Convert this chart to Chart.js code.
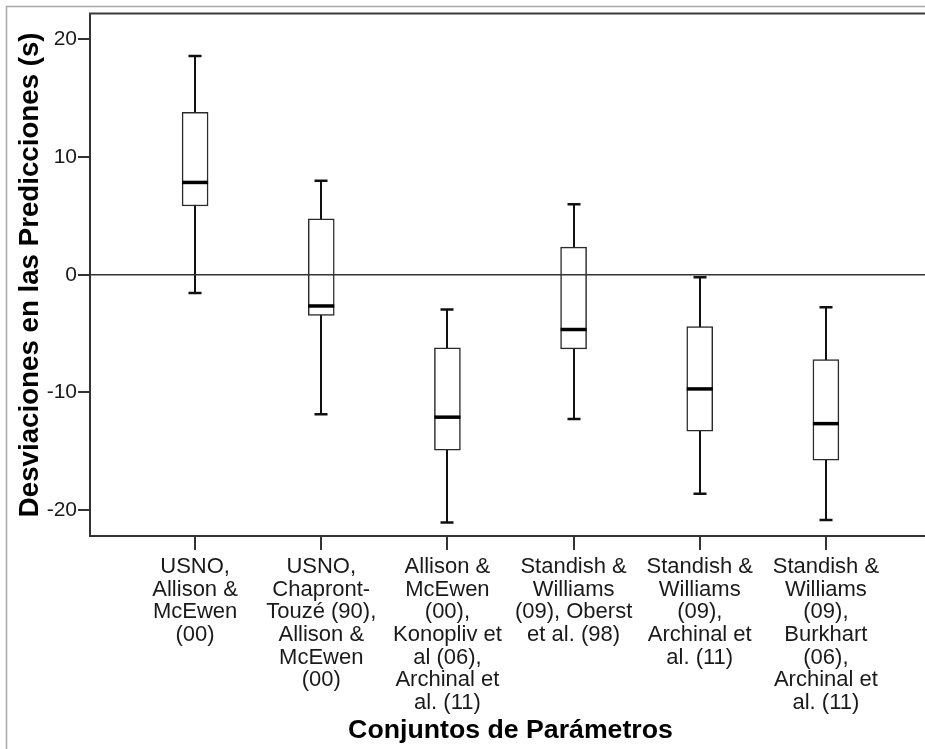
<!DOCTYPE html>
<html>
<head>
<meta charset="utf-8">
<script src="https://cdn.jsdelivr.net/npm/chart.js@4.4.1/dist/chart.umd.min.js"></script>
<style>
  html, body { margin: 0; padding: 0; background: #fff; overflow: hidden; }
  canvas { display: block; }
</style>
</head>
<body>
<canvas id="chart" width="932" height="749"></canvas>
<script>
// Parameter sets (multi-line category labels)
const categories = [
  ['USNO,', 'Allison &', 'McEwen', '(00)'],
  ['USNO,', 'Chapront-', 'Touzé (90),', 'Allison &', 'McEwen', '(00)'],
  ['Allison &', 'McEwen', '(00),', 'Konopliv et', 'al (06),', 'Archinal et', 'al. (11)'],
  ['Standish &', 'Williams', '(09), Oberst', 'et al. (98)'],
  ['Standish &', 'Williams', '(09),', 'Archinal et', 'al. (11)'],
  ['Standish &', 'Williams', '(09),', 'Burkhart', '(06),', 'Archinal et', 'al. (11)']
];

// Five-number summaries of the prediction deviations (s)
const whiskerLow  = [-1.55, -11.85, -21.05, -12.25, -18.6, -20.85];
const q1          = [ 5.85,  -3.45, -14.9,   -6.3,  -13.3, -15.75];
const median      = [ 7.85,  -2.65, -12.1,   -4.65,  -9.7, -12.65];
const q3          = [13.8,    4.75,  -6.2,    2.35,  -4.4,  -7.2];
const whiskerHigh = [18.6,    8.0,   -2.95,   6.0,   -0.2,  -2.75];

const yTicks = [-20, -10, 0, 10, 20];

const FONT = '"Liberation Sans", Arial, Helvetica, sans-serif';
const INK = '#1a1a1a';

// Whiskers, medians, reference line and frame drawn through the chart scales
const boxPlotPlugin = {
  id: 'boxPlot',
  beforeDraw(chart) {
    const { ctx, width, height } = chart;
    ctx.save();
    ctx.strokeStyle = '#a8a8a8';
    ctx.lineWidth = 1.5;
    ctx.beginPath();
    ctx.moveTo(6.5, height);
    ctx.lineTo(6.5, 6.5);
    ctx.lineTo(width, 6.5);
    ctx.stroke();
    ctx.restore();
  },
  beforeDatasetsDraw(chart) {
    const { ctx, scales: { x, y } } = chart;
    ctx.save();
    ctx.strokeStyle = '#111';
    categories.forEach((_, i) => {
      const px = Math.round(x.getPixelForValue(i));
      const yHi = y.getPixelForValue(whiskerHigh[i]);
      const yLo = y.getPixelForValue(whiskerLow[i]);
      ctx.lineWidth = 2;
      ctx.beginPath();
      ctx.moveTo(px, yHi);
      ctx.lineTo(px, yLo);
      ctx.stroke();
      ctx.lineWidth = 2.5;
      ctx.beginPath();
      ctx.moveTo(px - 6.5, yHi); ctx.lineTo(px + 6.5, yHi);
      ctx.moveTo(px - 6.5, yLo); ctx.lineTo(px + 6.5, yLo);
      ctx.stroke();
    });
    ctx.restore();
  },
  afterDatasetsDraw(chart) {
    const { ctx, chartArea, scales: { y } } = chart;
    const meta = chart.getDatasetMeta(0);
    ctx.save();
    // medians
    ctx.strokeStyle = '#000';
    ctx.lineWidth = 3.5;
    meta.data.forEach((bar, i) => {
      const half = bar.width / 2;
      const py = y.getPixelForValue(median[i]);
      ctx.beginPath();
      ctx.moveTo(bar.x - half, py);
      ctx.lineTo(bar.x + half, py);
      ctx.stroke();
    });
    // zero reference line
    const y0 = y.getPixelForValue(0);
    ctx.strokeStyle = '#333';
    ctx.lineWidth = 1.5;
    ctx.beginPath();
    ctx.moveTo(chartArea.left, y0);
    ctx.lineTo(chartArea.right, y0);
    ctx.stroke();
    // top edge of the plot frame
    ctx.strokeStyle = '#3a3a3a';
    ctx.lineWidth = 2;
    ctx.beginPath();
    ctx.moveTo(chartArea.left - 1, chartArea.top);
    ctx.lineTo(chartArea.right, chartArea.top);
    ctx.stroke();
    ctx.restore();
  }
};

new Chart(document.getElementById('chart'), {
  type: 'bar',
  data: {
    datasets: [{
      data: categories.map((_, i) => ({ x: i, y: [q1[i], q3[i]] })),
      backgroundColor: '#ffffff',
      borderColor: '#2a2a2a',
      borderWidth: 1.5,
      borderSkipped: false,
      barThickness: 26
    }]
  },
  options: {
    responsive: false,
    animation: false,
    events: [],
    layout: { padding: { left: 0, top: 13, right: 1, bottom: 0 } },
    plugins: {
      legend: { display: false },
      tooltip: { enabled: false }
    },
    scales: {
      x: {
        type: 'linear',
        offset: false,
        min: -0.833,
        max: 5.833,
        afterBuildTicks: s => { s.ticks = categories.map((_, i) => ({ value: i })); },
        afterFit: s => { s.height = 213; },
        ticks: {
          callback: v => categories[v],
          autoSkip: false,
          maxRotation: 0,
          minRotation: 0,
          padding: 5.5,
          color: INK,
          font: { family: FONT, size: 22, lineHeight: 1.03 }
        },
        grid: { offset: false, drawOnChartArea: false, drawTicks: true, tickLength: 14, color: '#333', lineWidth: 2 },
        border: { display: true, color: '#333', width: 2 },
        title: {
          display: true,
          text: 'Conjuntos de Parámetros',
          color: '#000',
          font: { family: FONT, size: 26.7, weight: 'bold' },
          padding: { top: 0, bottom: 2.5 }
        }
      },
      y: {
        min: -22.2,
        max: 22.2,
        afterBuildTicks: s => { s.ticks = yTicks.map(v => ({ value: v })); },
        afterFit: s => { s.width = 90; },
        ticks: {
          padding: 1,
          color: INK,
          font: { family: FONT, size: 21 }
        },
        grid: { drawOnChartArea: false, drawTicks: true, tickLength: 12, color: '#333', lineWidth: 2 },
        border: { display: true, color: '#333', width: 2 },
        title: {
          display: true,
          text: 'Desviaciones en las Predicciones (s)',
          color: '#000',
          font: { family: FONT, size: 27.7, weight: 'bold' },
          padding: { top: 14, bottom: 0 }
        }
      }
    }
  },
  plugins: [boxPlotPlugin]
});
</script>
</body>
</html>
